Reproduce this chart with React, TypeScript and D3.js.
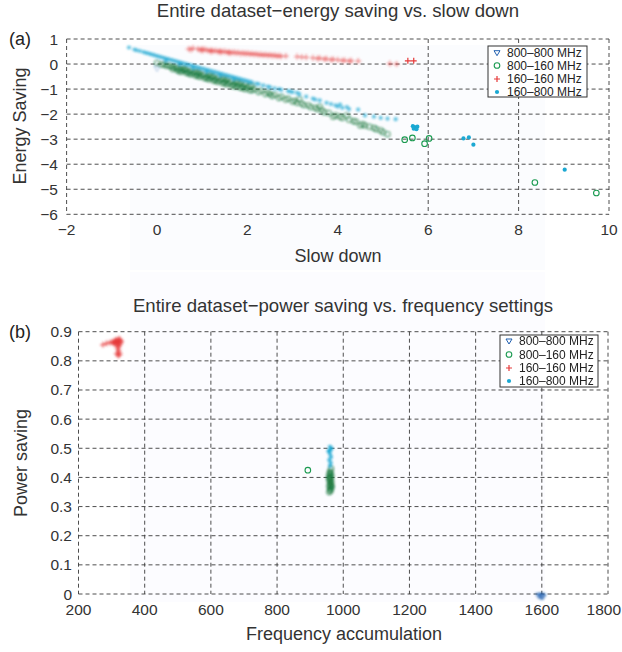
import React from "react";
import * as d3 from "d3";

// ---------- Panel (a): energy saving vs slow down ----------
const seriesNames = ["800\u2013800 MHz", "800\u2013160 MHz", "160\u2013160 MHz", "160\u2013800 MHz"];

const aBlue: [number, number][] = [[0.0, -0.17]];

const aGreen: [number, number][] = [
  [0.0, 0.05], [0.1, -0.02], [0.2, -0.06], [0.3, -0.1], [0.4, -0.15], [0.5, -0.2], [0.6, -0.25],
  [0.7, -0.3], [0.8, -0.36], [0.9, -0.4], [1.0, -0.45], [1.1, -0.5], [1.2, -0.55], [1.3, -0.6],
  [1.4, -0.65], [1.5, -0.7], [1.6, -0.75], [1.7, -0.8], [1.8, -0.85], [1.9, -0.88], [2.0, -0.92],
  [2.15, -1.0], [2.3, -1.06], [2.45, -1.13], [2.6, -1.22], [2.75, -1.3], [2.9, -1.38], [3.05, -1.47],
  [3.2, -1.58], [3.35, -1.65], [3.5, -1.75], [3.65, -1.85], [3.8, -1.95], [3.95, -2.05], [4.1, -2.15],
  [4.25, -2.22], [4.4, -2.3], [4.55, -2.4], [4.7, -2.5], [4.85, -2.6], [5.0, -2.72], [5.1, -2.8],
  [0.5, -0.3], [0.7, -0.38], [0.9, -0.48], [1.1, -0.58], [1.3, -0.68], [1.5, -0.78], [1.7, -0.88],
  [1.9, -0.96], [2.1, -1.05], [0.6, -0.18], [0.9, -0.32], [1.2, -0.46], [1.5, -0.6], [1.8, -0.74],
  [2.1, -0.88], [2.5, -1.2], [3.0, -1.5], [3.4, -1.72], [3.9, -2.1], [4.5, -2.45],
  [0.35, -0.2], [0.45, -0.25], [0.55, -0.3], [0.65, -0.35], [0.75, -0.41], [0.85, -0.46], [0.95, -0.51],
  [1.05, -0.56], [1.15, -0.61], [1.25, -0.66], [1.35, -0.71], [1.45, -0.76], [1.55, -0.81], [1.65, -0.86],
  [1.75, -0.9], [1.85, -0.95], [1.95, -1.0], [2.05, -1.04], [2.25, -1.12], [2.4, -1.2],
  [0.15, -0.01], [0.25, -0.06], [0.35, -0.1], [0.45, -0.14], [0.55, -0.19], [0.65, -0.23], [0.75, -0.28],
  [0.85, -0.32], [0.95, -0.37], [1.05, -0.42], [1.15, -0.46], [1.25, -0.51], [1.35, -0.55], [1.45, -0.6],
  [1.55, -0.64], [1.65, -0.69], [1.75, -0.73], [1.85, -0.78], [1.95, -0.82], [2.05, -0.87],
  [2.55, -1.28], [2.7, -1.36], [2.85, -1.42], [3.1, -1.55], [3.25, -1.64], [3.55, -1.8], [3.7, -1.92],
  [4.05, -2.1], [4.35, -2.28], [4.6, -2.45], [4.8, -2.55], [4.95, -2.65], [3.15, -1.4], [3.6, -1.7], [4.2, -2.05],
  [5.48, -3.02], [5.65, -2.95], [5.92, -3.18], [6.02, -2.97], [8.36, -4.73], [9.72, -5.15],
];

const aRed: [number, number][] = [
  [0.7, 0.6], [0.8, 0.63], [0.9, 0.6], [1.0, 0.6], [1.1, 0.56], [1.2, 0.55], [1.3, 0.53], [1.4, 0.52],
  [1.5, 0.5], [1.6, 0.48], [1.7, 0.47], [1.8, 0.45], [1.9, 0.44], [2.0, 0.43], [2.1, 0.41], [2.2, 0.4],
  [2.3, 0.38], [2.4, 0.37], [2.5, 0.36], [2.6, 0.35], [2.7, 0.33], [2.85, 0.32], [3.1, 0.3], [3.3, 0.27],
  [3.45, 0.25], [3.6, 0.24], [3.75, 0.21], [3.9, 0.19], [4.0, 0.17], [4.15, 0.15], [4.3, 0.13],
  [4.45, 0.12], [5.15, 0.02], [5.3, 0.0], [1.0, 0.53], [1.2, 0.5], [1.4, 0.47], [1.6, 0.44],
  [0.75, 0.58], [0.95, 0.57], [1.05, 0.58], [1.15, 0.53], [1.25, 0.52], [1.35, 0.5], [1.45, 0.49],
  [1.55, 0.47], [1.65, 0.45], [1.75, 0.44], [1.85, 0.42], [1.95, 0.41], [2.05, 0.4], [2.15, 0.39],
  [2.25, 0.37], [2.35, 0.36], [2.45, 0.35], [2.55, 0.34], [2.65, 0.32], [2.75, 0.31], [3.2, 0.28],
  [3.55, 0.22], [3.7, 0.2], [3.85, 0.17], [4.1, 0.14], [4.25, 0.12],
  [5.55, 0.13], [5.68, 0.13],
];

const aCyan: [number, number][] = [
  [-0.62, 0.66], [-0.38, 0.52], [-0.3, 0.48], [-0.2, 0.43], [-0.1, 0.38], [0.0, 0.32], [0.1, 0.27],
  [0.2, 0.22], [0.3, 0.17], [0.4, 0.12], [0.5, 0.07], [0.6, 0.02], [0.7, -0.03], [0.8, -0.08],
  [0.9, -0.13], [1.0, -0.18], [1.1, -0.23], [1.2, -0.28], [1.3, -0.33], [1.4, -0.38], [1.5, -0.43],
  [1.6, -0.48], [1.7, -0.53], [1.8, -0.58], [1.9, -0.63], [2.0, -0.68], [2.1, -0.73], [2.2, -0.78],
  [2.35, -0.85], [2.5, -0.92], [2.6, -0.97], [2.75, -1.03], [2.9, -1.08], [3.0, -1.12], [3.15, -1.2],
  [3.3, -1.3], [3.45, -1.38], [3.6, -1.45], [3.75, -1.55], [3.85, -1.6], [4.0, -1.7], [4.1, -1.75],
  [4.25, -1.8], [4.45, -1.82], [4.6, -2.05], [4.8, -2.1], [4.95, -2.15], [5.1, -2.18], [5.28, -2.2],
  [0.2, 0.14], [0.5, 0.0], [0.8, -0.15], [1.1, -0.3], [1.4, -0.45], [1.7, -0.6],
  [-0.5, 0.58], [-0.45, 0.55], [-0.25, 0.45], [-0.15, 0.4], [-0.05, 0.35], [0.05, 0.3], [0.15, 0.25],
  [0.25, 0.2], [0.35, 0.15], [0.45, 0.1], [0.55, 0.05], [0.65, 0.0], [0.75, -0.05], [0.85, -0.1],
  [0.95, -0.15], [1.05, -0.2], [1.15, -0.25], [1.25, -0.3], [1.35, -0.35], [1.45, -0.4], [1.55, -0.45],
  [1.65, -0.5], [1.75, -0.55], [1.85, -0.6], [1.95, -0.65], [2.05, -0.7], [2.25, -0.8], [2.45, -0.9],
  [2.7, -1.0], [2.95, -1.1], [3.1, -1.15], [3.5, -1.42], [3.95, -1.65], [4.2, -1.72], [4.05, -1.62],
  [5.66, -2.48], [5.7, -2.52], [5.76, -2.5], [5.68, -2.58], [5.74, -2.6],
  [6.78, -2.97], [6.9, -2.93], [7.0, -3.22], [9.02, -4.22],
];

const aXTicks = [-2, 0, 2, 4, 6, 8, 10];
const aYTicks = [1, 0, -1, -2, -3, -4, -5, -6];
const aXGrid = [6, 8];

// ---------- Panel (b): power saving vs frequency ----------
const bBlue: [number, number][] = [[1590, -0.005], [1596, -0.008], [1600, -0.01], [1604, -0.008], [1598, -0.004]];
const bGreen: [number, number][] = [
  [958, 0.35], [962, 0.355], [960, 0.36], [964, 0.365], [958, 0.37], [962, 0.375], [960, 0.38],
  [964, 0.385], [958, 0.39], [962, 0.395], [960, 0.4], [964, 0.405], [958, 0.41], [962, 0.415],
  [960, 0.42], [963, 0.43], [957, 0.4], [965, 0.37], [893, 0.425],
];
const bRed: [number, number][] = [
  [274, 0.855], [285, 0.86], [295, 0.862], [302, 0.865], [308, 0.86], [312, 0.868], [316, 0.872],
  [320, 0.865], [324, 0.862], [318, 0.855], [322, 0.85], [318, 0.845], [320, 0.838], [322, 0.83],
  [316, 0.825], [324, 0.822], [320, 0.818], [313, 0.858], [326, 0.87], [305, 0.862], [310, 0.87],
  [314, 0.862], [326, 0.858], [328, 0.866], [324, 0.875], [316, 0.865], [320, 0.872],
];
const bCyan: [number, number][] = [
  [960, 0.44], [962, 0.45], [958, 0.46], [963, 0.47], [960, 0.48], [957, 0.49], [962, 0.495],
  [960, 0.505], [956, 0.49], [964, 0.5],
];
const bXTicks = [200, 400, 600, 800, 1000, 1200, 1400, 1600, 1800];
const bYTicks = [0, 0.1, 0.2, 0.3, 0.4, 0.5, 0.6, 0.7, 0.8, 0.9];

const BLUE = "#2160b0";
const GREEN = "#1a9a50";
const RED = "#e63a3a";
const CYAN = "#1aa8d2";
const FONT = "'Liberation Sans', Arial, Helvetica, sans-serif";
const GRID = "#3a3a3a";

function Marker({ kind, x, y, op = 1, dense = false }: { kind: number; x: number; y: number; op?: number; dense?: boolean }) {
  if (kind === 0)
    return <path d={`M${x - 3},${y - 2} L${x + 3},${y - 2} L${x},${y + 3} Z`} fill="none" stroke={BLUE} strokeWidth={1} opacity={op} />;
  if (kind === 1)
    return <circle cx={x} cy={y} r={dense ? 2.6 : 2.8} fill="none" stroke={dense ? "#15763a" : GREEN} strokeWidth={1.1} opacity={op} />;
  if (kind === 2)
    return (
      <path d={`M${x - 3},${y} L${x + 3},${y} M${x},${y - 3} L${x},${y + 3}`} stroke={RED} strokeWidth={1.2} opacity={op} />
    );
  return <circle cx={x} cy={y} r={2.1} fill={CYAN} opacity={op} />;
}

function Legend({ x, y, w, h, rowY }: { x: number; y: number; w: number; h: number; rowY: number[] }) {
  return (
    <g>
      <rect x={x} y={y} width={w} height={h} fill="white" stroke="#333" strokeWidth={1} />
      {seriesNames.map((n, i) => (
        <g key={n}>
          <Marker kind={i} x={x + 9} y={y + rowY[i]} />
          <text x={x + 19} y={y + rowY[i] + 4.3} fontSize={12} fill="#222" fontFamily={FONT}>
            {n}
          </text>
        </g>
      ))}
    </g>
  );
}

export default function App() {
  const xA = d3.scaleLinear().domain([-2, 10]).range([66.6, 609]);
  const yA = d3.scaleLinear().domain([-6, 1]).range([214.3, 39]);
  const xB = d3.scaleLinear().domain([200, 1800]).range([78.5, 608]);
  const yB = d3.scaleLinear().domain([0, 0.9]).range([594, 331.7]);
  const dash = "4,3";
  const fmtA = (v: number) => (v < 0 ? "\u2212" + Math.abs(v) : String(v));
  const fmtB = (v: number) => d3.format("~g")(+v.toFixed(1));

  const aSeries = [aBlue, aGreen, aRed, aCyan];
  const bSeries = [bBlue, bGreen, bRed, bCyan];
  const denseOp = [0.35, 0.7, 0.6, 0.65];

  return (
    <svg width={622} height={652} style={{ position: "absolute", left: 0, top: 0, background: "white" }} fontFamily={FONT}>
      <defs>
        <filter id="soft" x="-10%" y="-10%" width="120%" height="120%">
          <feGaussianBlur stdDeviation="0.8" />
        </filter>
        <filter id="crisp" x="-10%" y="-10%" width="120%" height="120%">
          <feGaussianBlur stdDeviation="0.35" />
        </filter>
      </defs>
      {/* faint bitmap backgrounds */}
      <rect x={130} y={45} width={415} height={225} fill="#fbfcfe" />
      <rect x={130} y={272} width={415} height={330} fill="#fcfcff" />

      {/* ---------- Panel (a) ---------- */}
      <text x={338} y={17} textAnchor="middle" fontSize={18.6} fill="#333">
        Entire dataset{"\u2212"}energy saving vs. slow down
      </text>
      <text x={9} y={45} fontSize={18} fill="#222">(a)</text>
      {aYTicks.map((t) => (
        <line key={"ay" + t} x1={xA(-2)} x2={xA(10)} y1={yA(t)} y2={yA(t)} stroke={GRID} strokeWidth={0.9} strokeDasharray={dash} />
      ))}
      {[-2, ...aXGrid, 10].map((t) => (
        <line key={"ax" + t} x1={xA(t)} x2={xA(t)} y1={yA(1)} y2={yA(-6)} stroke={GRID} strokeWidth={0.9} strokeDasharray={dash} />
      ))}
      {aYTicks.map((t) => (
        <text key={"ayl" + t} x={58} y={yA(t) + 5.5} textAnchor="end" fontSize={15.5} fill="#333">
          {fmtA(t)}
        </text>
      ))}
      {aXTicks.map((t) => (
        <text key={"axl" + t} x={xA(t)} y={235} textAnchor="middle" fontSize={15.5} fill="#333">
          {fmtA(t)}
        </text>
      ))}
      <text x={338} y={262} textAnchor="middle" fontSize={18} fill="#333">Slow down</text>
      <text transform={`translate(26,${126}) rotate(-90)`} textAnchor="middle" fontSize={18} fill="#333">Energy Saving</text>
      <g filter="url(#soft)">
        {aSeries.map((s, k) =>
          s.map(([vx, vy], i) => {
            const isolated = (k === 1 && vx > 5.3) || (k === 3 && vx > 5.5) || (k === 2 && vx > 5.4);
            if (isolated) return null;
            return <Marker key={`a${k}-${i}`} kind={k} x={xA(vx)} y={yA(vy)} op={denseOp[k]} dense />;
          })
        )}
      </g>
      <g filter="url(#crisp)">
        {aSeries.map((s, k) =>
          s.map(([vx, vy], i) => {
            const isolated = (k === 1 && vx > 5.3) || (k === 3 && vx > 5.5) || (k === 2 && vx > 5.4);
            if (!isolated) return null;
            return <Marker key={`ai${k}-${i}`} kind={k} x={xA(vx)} y={yA(vy)} />;
          })
        )}
      </g>
      <Legend x={488} y={46} w={99} h={51} rowY={[6.7, 19.5, 33, 46]} />

      {/* ---------- Panel (b) ---------- */}
      <text x={343} y={312} textAnchor="middle" fontSize={18.6} fill="#333">
        Entire dataset{"\u2212"}power saving vs. frequency settings
      </text>
      <text x={9} y={338} fontSize={18} fill="#222">(b)</text>
      {bYTicks.map((t) => (
        <line key={"by" + t} x1={xB(200)} x2={xB(1800)} y1={yB(t)} y2={yB(t)} stroke={GRID} strokeWidth={0.9} strokeDasharray={dash} />
      ))}
      {bXTicks.map((t) => (
        <line key={"bx" + t} x1={xB(t)} x2={xB(t)} y1={yB(0.9)} y2={yB(0)} stroke={GRID} strokeWidth={0.9} strokeDasharray={dash} />
      ))}
      {bYTicks.map((t) => (
        <text key={"byl" + t} x={72} y={yB(t) + 5.5} textAnchor="end" fontSize={15.5} fill="#333">
          {fmtB(t)}
        </text>
      ))}
      {bXTicks.map((t, i) => (
        <text
          key={"bxl" + t}
          x={i === bXTicks.length - 1 ? 621 : xB(t)}
          y={615}
          textAnchor={i === bXTicks.length - 1 ? "end" : "middle"}
          fontSize={15.5}
          fill="#333"
        >
          {t}
        </text>
      ))}
      <text x={344} y={640} textAnchor="middle" fontSize={18} fill="#333">Frequency accumulation</text>
      <text transform={`translate(27,${463}) rotate(-90)`} textAnchor="middle" fontSize={18} fill="#333">Power saving</text>
      <g filter="url(#soft)">
        {bSeries.map((s, k) =>
          s.map(([vx, vy], i) => {
            const isolated = k === 1 && vx < 940;
            if (isolated) return null;
            return <Marker key={`b${k}-${i}`} kind={k} x={xB(vx)} y={yB(vy)} op={0.8} dense />;
          })
        )}
      </g>
      <g filter="url(#crisp)">
        {bGreen.filter(([vx]) => vx < 940).map(([vx, vy], i) => (
          <Marker key={`bi${i}`} kind={1} x={xB(vx)} y={yB(vy)} />
        ))}
      </g>
      <Legend x={500} y={335} w={98} h={52} rowY={[6, 19.5, 33, 46]} />
    </svg>
  );
}
